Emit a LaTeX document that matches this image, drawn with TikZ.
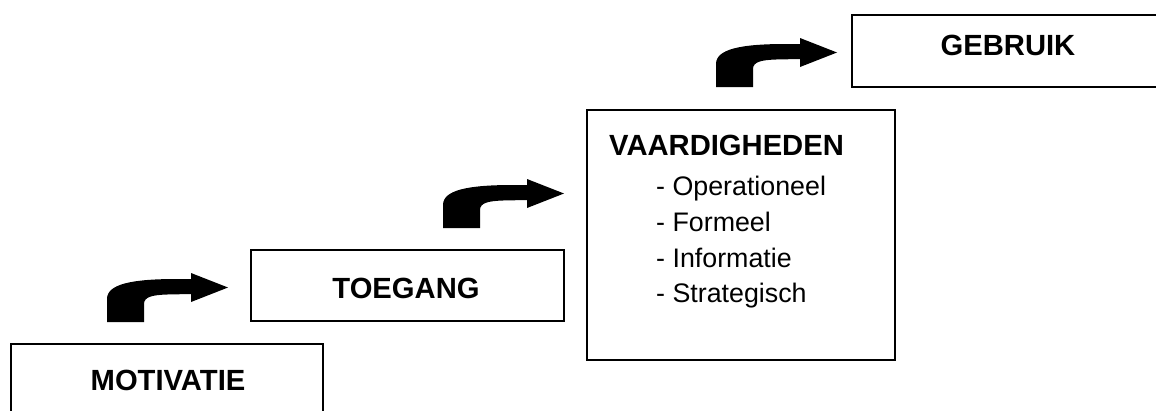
\documentclass[tikz,border=0pt]{standalone}
\usepackage{fontspec}
\setmainfont{Liberation Sans}
\begin{document}
\begin{tikzpicture}[x=1pt,y=-1pt,
  box/.style={draw=black,line width=1.7pt},
  headtxt/.style={anchor=base,inner sep=0pt,font=\fontsize{29.2}{35}\selectfont\bfseries},
  itemtxt/.style={anchor=base west,inner sep=0pt,font=\fontsize{26.8}{32}\selectfont},
  bentarrow/.pic={
    \fill[black] (0,0) -- (0,-23) .. controls (0,-38) and (25,-43) .. (70,-43)
      -- (84,-43) -- (84,-49) -- (121,-34.5) -- (84,-20) -- (84,-28)
      -- (60,-27.5) .. controls (45,-27) and (37,-25) .. (37,-18) -- (37,0) -- cycle;
  }]
\useasboundingbox (0,0) rectangle (1156,410);
% boxes
\draw[box] (11,416) -- (11,344) coordinate (m1) -- (323,344) -- (323,416);
\draw[box] (251,250) rectangle (564,321);
\draw[box] (587,110) rectangle (895,360);
\draw[box] (1162,15) -- (852,15) -- (852,87) -- (1162,87);
% texts
\node[headtxt] (motivatie) at (168,390) {MOTIVATIE};
\node[headtxt] (toegang) at (406,298) {TOEGANG};
\node[headtxt,anchor=base west] (vaard) at (609,155) {VAARDIGHEDEN};
\node[itemtxt] (op) at (656,195) {- Operationeel};
\node[itemtxt] (fo) at (656,231) {- Formeel};
\node[itemtxt] (in) at (656,267) {- Informatie};
\node[itemtxt] (st) at (656,302) {- Strategisch};
\node[headtxt] (gebruik) at (1008,55) {GEBRUIK};
% arrows
\pic at (107,322) {bentarrow};
\pic at (443,228) {bentarrow};
\pic at (716,87) {bentarrow};
\end{tikzpicture}
\end{document}
